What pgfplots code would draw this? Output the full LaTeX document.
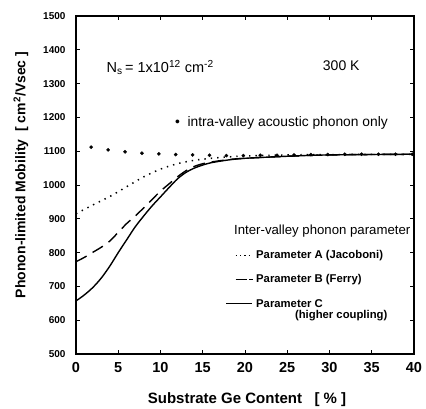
\documentclass[border=0pt]{standalone}
\usepackage{pgfplots}
\pgfplotsset{compat=1.18}
\usepackage{fontspec}
\setmainfont{Liberation Sans}
\begin{document}
\begin{tikzpicture}
\useasboundingbox (-76pt,-55pt) rectangle (350pt,354pt);
\begin{axis}[
  scale only axis, width=338pt, height=338pt,
  xmin=0, xmax=40, ymin=500, ymax=1500,
  xtick={0,5,...,40}, ytick={500,600,...,1500},
  tick align=inside, major tick length=4pt,
  axis line style={line width=1.2pt},
  every tick/.style={line width=0.9pt, black},
  /pgf/number format/assume math mode=true,
  /pgf/number format/set thousands separator={},
  xticklabel style={font=\fontsize{14.5}{16}\selectfont\bfseries, yshift=-5pt},
  yticklabel style={font=\fontsize{10}{11}\selectfont\bfseries, xshift=-7pt},
  xlabel={Substrate Ge Content\ \ \ [ \% ]},
  ylabel={Phonon-limited Mobility\ \ [ cm\textsuperscript{2}/Vsec ]},
  xlabel style={font=\fontsize{15}{17}\selectfont\bfseries, at={(axis description cs:0.506,-0.136)}, anchor=center},
  ylabel style={font=\fontsize{14}{16}\selectfont\bfseries, at={(axis description cs:-0.163,0.53)}, anchor=center},
  clip=false,
]
% intra-valley acoustic phonon only
\addplot[only marks, mark=*, mark size=1.6pt, black] coordinates {
 (1.8,1112) (3.8,1104) (5.8,1098) (7.8,1094) (9.8,1092) (11.8,1090) (13.8,1089) (15.8,1088)
 (17.8,1087) (19.8,1087) (21.8,1088) (23.8,1088) (25.8,1089) (27.8,1090) (29.8,1090)
 (31.8,1091) (33.8,1091) (35.8,1091) (37.8,1091) (39.8,1091)};
% Parameter A
\addplot[black, line width=1.5pt, dash pattern=on 1.4pt off 5pt, smooth] coordinates {
 (0,915) (2,941) (4,966) (6,995) (8,1024) (10,1047) (12,1063) (14,1073) (16,1079)
 (18,1083) (20,1086) (25,1089) (30,1090) (40,1091)};
% Parameter B
\addplot[black, line width=1.4pt, dash pattern=on 12pt off 7pt, smooth] coordinates {
 (0,773) (1,786) (2,801) (3,816) (4,834) (5,860) (6,886) (7,908) (8,932) (9,957)
 (10,982) (11,1003) (12,1024) (13,1042) (14,1055) (15,1063) (16,1068) (18,1075)
 (20,1079) (25,1085) (30,1089) (40,1091)};
% Parameter C
\addplot[black, line width=1.4pt, smooth] coordinates {
 (0,657) (1,675) (2,697) (3,725) (4,760) (5,800) (6,838) (7,876) (8,908) (9,938)
 (10,965) (11,992) (12,1018) (13,1037) (14,1050) (15,1059) (16,1066) (18,1074)
 (20,1079) (25,1085) (30,1089) (40,1091)};
% annotations
\node[anchor=west, font=\fontsize{14.5}{16}\selectfont, inner sep=0pt] at (axis cs:3.6,1348)
 {N\textsubscript{s}\,= 1x10\textsuperscript{12} cm\textsuperscript{-2}};
\node[anchor=west, font=\fontsize{14}{16}\selectfont, inner sep=0pt] at (axis cs:29.2,1352) {300 K};
\node[anchor=west, font=\fontsize{13.8}{15}\selectfont, inner sep=0pt] at (axis cs:11.7,1183) {\textbullet\ \ intra-valley acoustic phonon only};
\node[anchor=west, font=\fontsize{13.2}{15}\selectfont, inner sep=0pt] at (axis cs:18.7,864) {Inter-valley phonon parameter};
\draw[black, line width=1.2pt, dash pattern=on 1.3pt off 3pt] (axis cs:18.9,792) -- (axis cs:20.8,792);
\node[anchor=west, font=\fontsize{11.3}{13}\selectfont\bfseries, inner sep=0pt] at (axis cs:21.3,792) {Parameter A (Jacoboni)};
\draw[black, line width=1.2pt] (axis cs:18.9,721) -- (axis cs:20.2,721);
\draw[black, line width=1.2pt] (axis cs:20.5,721) -- (axis cs:20.9,721);
\node[anchor=west, font=\fontsize{11.3}{13}\selectfont\bfseries, inner sep=0pt] at (axis cs:21.3,721) {Parameter B (Ferry)};
\draw[black, line width=1.0pt] (axis cs:17.8,650) -- (axis cs:20.8,650);
\node[anchor=west, font=\fontsize{11.3}{13}\selectfont\bfseries, inner sep=0pt] at (axis cs:21.3,650) {Parameter C};
\node[anchor=west, font=\fontsize{11.3}{13}\selectfont\bfseries, inner sep=0pt] at (axis cs:25.9,613) {(higher coupling)};
\end{axis}
\end{tikzpicture}
\end{document}
